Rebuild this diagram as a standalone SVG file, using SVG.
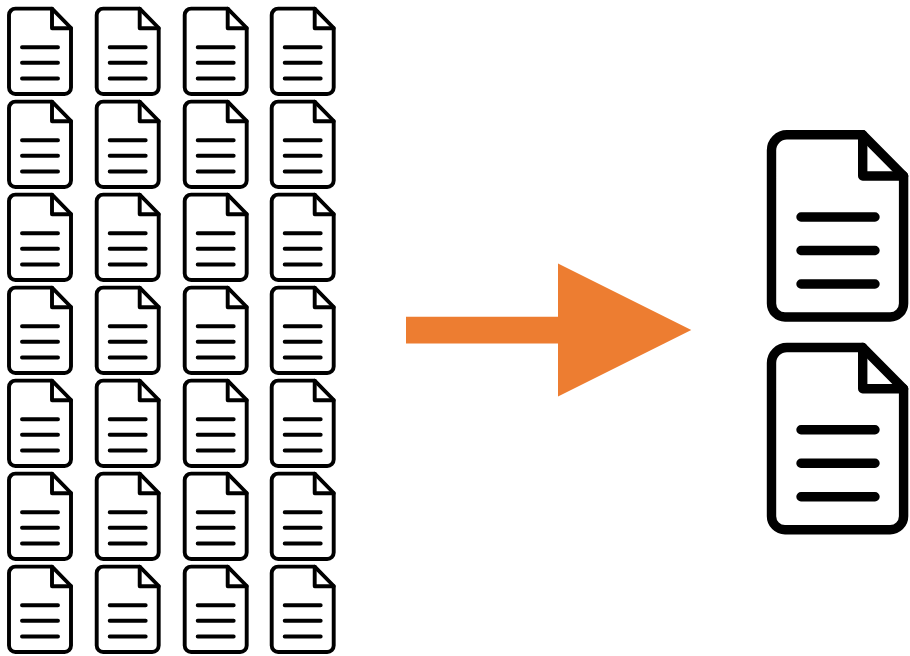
<svg xmlns="http://www.w3.org/2000/svg" xmlns:xlink="http://www.w3.org/1999/xlink" width="910" height="656" viewBox="0 0 910 656">
<style>
.doc{fill:none;stroke:#000;stroke-linejoin:round;stroke-linecap:round}
.small{stroke-width:3.9}
.big{stroke-width:9.4}
</style>
<defs>
<g id="small-doc" class="doc small">
<path d="M15.5 8.6H52L71 28V87.5a6.5 6.5 0 0 1-6.5 6.5H15.5a6.5 6.5 0 0 1-6.5-6.5V15.1a6.5 6.5 0 0 1 6.5-6.5Z"/>
<path d="M52 8.6V28.3H71"/>
<path d="M22 47.2H58M22 62.8H58M22 78.5H58"/>
</g>
<g id="big-doc" class="doc big">
<path d="M787 134.8H862.7L903.6 176V303.5a13.5 13.5 0 0 1-13.5 13.5H785a13.5 13.5 0 0 1-13.5-13.5V150.3a15.5 15.5 0 0 1 15.5-15.5Z"/>
<path d="M862.7 134.8V176H903.6"/>
<path d="M801 217H875M801 250.5H875M801 284H875"/>
</g>
</defs>
<rect width="910" height="656" fill="#fff"/>
<g id="source-docs">
<g id="doc-r1c1"><use href="#small-doc" x="0" y="0"/></g>
<g id="doc-r1c2"><use href="#small-doc" x="87.7" y="0"/></g>
<g id="doc-r1c3"><use href="#small-doc" x="175.7" y="0"/></g>
<g id="doc-r1c4"><use href="#small-doc" x="262.7" y="0"/></g>
<g id="doc-r2c1"><use href="#small-doc" x="0" y="93"/></g>
<g id="doc-r2c2"><use href="#small-doc" x="87.7" y="93"/></g>
<g id="doc-r2c3"><use href="#small-doc" x="175.7" y="93"/></g>
<g id="doc-r2c4"><use href="#small-doc" x="262.7" y="93"/></g>
<g id="doc-r3c1"><use href="#small-doc" x="0" y="186"/></g>
<g id="doc-r3c2"><use href="#small-doc" x="87.7" y="186"/></g>
<g id="doc-r3c3"><use href="#small-doc" x="175.7" y="186"/></g>
<g id="doc-r3c4"><use href="#small-doc" x="262.7" y="186"/></g>
<g id="doc-r4c1"><use href="#small-doc" x="0" y="279"/></g>
<g id="doc-r4c2"><use href="#small-doc" x="87.7" y="279"/></g>
<g id="doc-r4c3"><use href="#small-doc" x="175.7" y="279"/></g>
<g id="doc-r4c4"><use href="#small-doc" x="262.7" y="279"/></g>
<g id="doc-r5c1"><use href="#small-doc" x="0" y="372"/></g>
<g id="doc-r5c2"><use href="#small-doc" x="87.7" y="372"/></g>
<g id="doc-r5c3"><use href="#small-doc" x="175.7" y="372"/></g>
<g id="doc-r5c4"><use href="#small-doc" x="262.7" y="372"/></g>
<g id="doc-r6c1"><use href="#small-doc" x="0" y="465"/></g>
<g id="doc-r6c2"><use href="#small-doc" x="87.7" y="465"/></g>
<g id="doc-r6c3"><use href="#small-doc" x="175.7" y="465"/></g>
<g id="doc-r6c4"><use href="#small-doc" x="262.7" y="465"/></g>
<g id="doc-r7c1"><use href="#small-doc" x="0" y="558"/></g>
<g id="doc-r7c2"><use href="#small-doc" x="87.7" y="558"/></g>
<g id="doc-r7c3"><use href="#small-doc" x="175.7" y="558"/></g>
<g id="doc-r7c4"><use href="#small-doc" x="262.7" y="558"/></g>
</g>
<g id="connectors">
<path id="arrow" fill="#ed7d31" d="M406 316.7H558V263.5L691.3 330L558 396.5V343.5H406Z"/>
</g>
<g id="result-doc-1"><use href="#big-doc"/></g>
<g id="result-doc-2"><use href="#big-doc" y="212.7"/></g>
</svg>
